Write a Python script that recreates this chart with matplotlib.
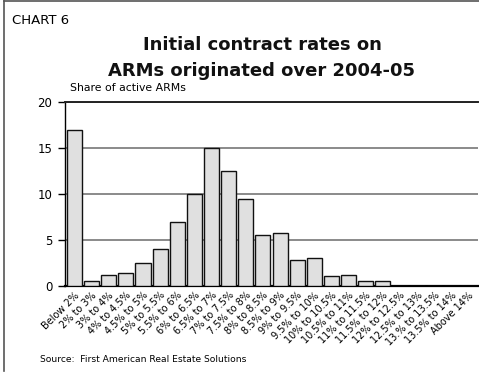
import matplotlib

matplotlib.use("Agg")
import matplotlib.pyplot as plt
import numpy as np

categories = [
    "Below 2%", "2% to 3%", "3% to 4%", "4% to 4.5%", "4.5% to 5%", "5% to 5.5%",
    "5.5% to 6%", "6% to 6.5%", "6.5% to 7%", "7% to 7.5%", "7.5% to 8%", "8% to 8.5%",
    "8.5% to 9%", "9% to 9.5%", "9.5% to 10%", "10% to 10.5%", "10.5% to 11%",
    "11% to 11.5%", "11.5% to 12%", "12% to 12.5%", "12.5% to 13%", "13.% to 13.5%",
    "13.5% to 14%", "Above 14%",
]
shares = [17.0, 0.5, 1.2, 1.4, 2.5, 4.0, 7.0, 10.0, 15.0, 12.5, 9.5, 5.5,
          5.8, 2.8, 3.0, 1.1, 1.2, 0.5, 0.5, 0.05, 0.05, 0.03, 0.03, 0.05]
yticks = [0, 5, 10, 15, 20]

W, H = 479, 375
fig = plt.figure(figsize=(W / 100, H / 100), dpi=100)
ax = fig.add_axes([65 / W, 1 - 286 / H, (478 - 65) / W, (286 - 102) / H])

x = np.arange(len(categories))
ax.bar(x, shares, width=0.88, color="#e0e0e0", edgecolor="#111111", linewidth=1.0, zorder=3)
ax.set_xlim(-0.55, len(categories) - 0.45)
ax.set_ylim(0, 20)
ax.set_yticks(yticks)
ax.yaxis.grid(True, color="#777777", linewidth=1.2, zorder=0)
ax.set_axisbelow(True)
ax.spines["right"].set_visible(False)
ax.spines["top"].set_color("#222222")
ax.spines["top"].set_linewidth(1.4)
ax.spines["left"].set_linewidth(1.0)
ax.spines["bottom"].set_linewidth(1.6)
ax.tick_params(axis="y", length=5, width=1, labelsize=8.5, pad=4)
ax.tick_params(axis="x", length=0, pad=3)
ax.set_xticks(x)
ax.set_xticklabels(categories, rotation=45, ha="right", rotation_mode="anchor", fontsize=7.0)

fig.text(12 / W, 1 - 20 / H, "CHART 6", fontsize=9.5, va="center", ha="left")
fig.text(262 / W, 1 - 45 / H, "Initial contract rates on", fontsize=13, fontweight="bold",
         ha="center", va="center", color="#111111")
fig.text(262 / W, 1 - 71 / H, "ARMs originated over 2004-05", fontsize=13, fontweight="bold",
         ha="center", va="center", color="#111111")
fig.text(70 / W, 1 - 88 / H, "Share of active ARMs", fontsize=7.8, ha="left", va="center")
fig.text(40 / W, 1 - 360 / H, "Source:  First American Real Estate Solutions", fontsize=6.6,
         ha="left", va="center")

# frame around the chart box
fig.add_artist(plt.Line2D([4 / W, 4 / W], [0.01, 1 - 1 / H], color="#555555", lw=1.2))
fig.add_artist(plt.Line2D([4 / W, 1], [1 - 1 / H, 1 - 1 / H], color="#555555", lw=1.2))

fig.savefig("out.png", dpi=100)
